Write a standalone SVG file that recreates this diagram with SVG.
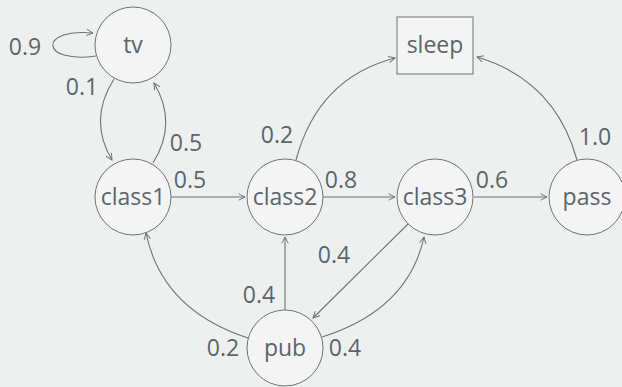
<svg xmlns="http://www.w3.org/2000/svg" width="622" height="387" viewBox="0 0 622 387">
<style>
.bg{fill:#eef0f0}
.node{fill:#f4f4f4;stroke:#69747a;stroke-width:1}
.lbl{font-family:"Open Sans","Noto Sans",sans-serif;font-size:23px;fill:#5a656b;text-anchor:middle}
.edge{fill:none;stroke:#69747a;stroke-width:1.1;marker-end:url(#arr)}
</style>
<defs>
<marker id="arr" viewBox="0 0 10 10" refX="9" refY="5" markerWidth="8" markerHeight="9" markerUnits="userSpaceOnUse" orient="auto">
<path d="M1,1 L9,5 L1,9" fill="none" stroke="#69747a" stroke-width="1.2"/>
</marker>
</defs>
<rect class="bg" x="0" y="0" width="622" height="387"/>
<g id="connectors">
<path class="edge" d="M96,56 C40,64 38,28 93,33"/>
<path class="edge" d="M114,79 Q88,120 112,160"/>
<path class="edge" d="M153,163 Q178,123 154,83"/>
<path class="edge" d="M171,197 L245,197"/>
<path class="edge" d="M296,160 Q318,78 395,58"/>
<path class="edge" d="M323,197 L395,197"/>
<path class="edge" d="M474,197 L547,197"/>
<path class="edge" d="M577,160 Q555,80 477,57"/>
<path class="edge" d="M285,310 L285,237"/>
<path class="edge" d="M408,224 L313,318"/>
<path class="edge" d="M322,337 Q408,310 424,237"/>
<path class="edge" d="M248,338 Q162,310 146,233"/>
<text class="lbl" x="25" y="55">0.9</text>
<text class="lbl" x="82" y="95">0.1</text>
<text class="lbl" x="186" y="151">0.5</text>
<text class="lbl" x="190" y="188">0.5</text>
<text class="lbl" x="277" y="143">0.2</text>
<text class="lbl" x="341" y="188">0.8</text>
<text class="lbl" x="492" y="188">0.6</text>
<text class="lbl" x="595" y="145">1.0</text>
<text class="lbl" x="334" y="263">0.4</text>
<text class="lbl" x="259" y="303">0.4</text>
<text class="lbl" x="223" y="356">0.2</text>
<text class="lbl" x="345" y="356">0.4</text>
</g>
<g id="tv"><circle class="node" cx="133" cy="45" r="38"/><text class="lbl" x="133" y="53">tv</text></g>
<g id="class1"><circle class="node" cx="133" cy="197" r="38"/><text class="lbl" x="133" y="205">class1</text></g>
<g id="class2"><circle class="node" cx="285" cy="197" r="38"/><text class="lbl" x="285" y="205">class2</text></g>
<g id="class3"><circle class="node" cx="435" cy="197" r="38"/><text class="lbl" x="435" y="205">class3</text></g>
<g id="pass"><circle class="node" cx="587" cy="197" r="38"/><text class="lbl" x="587" y="205">pass</text></g>
<g id="sleep"><rect class="node" x="397" y="17" width="76" height="57"/><text class="lbl" x="435" y="53">sleep</text></g>
<g id="pub"><circle class="node" cx="285" cy="348" r="38"/><text class="lbl" x="285" y="356">pub</text></g>
</svg>
